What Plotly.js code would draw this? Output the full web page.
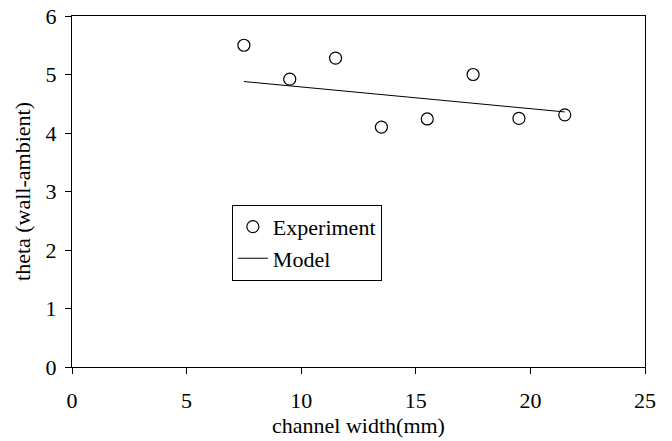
<!DOCTYPE html>
<html>
<head>
<script src="https://cdn.plot.ly/plotly-3.0.1.min.js"></script>
<style>body{margin:0;padding:0;background:#fff}#chart{width:672px;height:441px}</style>
</head>
<body>
<div id="chart"></div>
<script>
const expX = [7.5, 9.5, 11.5, 13.5, 15.5, 17.5, 19.5, 21.5];
const expY = [5.50, 4.92, 5.28, 4.10, 4.24, 5.00, 4.25, 4.31];
const modelX = [7.5, 21.5];
const modelY = [4.88, 4.36];
const xTicks = [0, 5, 10, 15, 20, 25];
const yTicks = [0, 1, 2, 3, 4, 5, 6];

const font = {family: '"Liberation Serif", "Times New Roman", serif', size: 22, color: '#000'};
const titleFont = {family: '"Liberation Serif", "Times New Roman", serif', size: 22, color: '#000'};

const traces = [
  {x: expX, y: expY, mode: 'markers', name: 'Experiment', type: 'scatter',
   marker: {symbol: 'circle-open', size: 12, color: '#000', line: {width: 1.2, color: '#000'}}},
  {x: modelX, y: modelY, mode: 'lines', name: 'Model', type: 'scatter',
   line: {color: '#000', width: 1}}
];

const layout = {
  width: 672, height: 441,
  margin: {l: 72, r: 27, t: 16, b: 74},
  paper_bgcolor: '#fff', plot_bgcolor: '#fff',
  font: font,
  showlegend: true,
  legend: {x: 0.279, y: 0.462, xanchor: 'left', yanchor: 'top',
           bordercolor: '#000', borderwidth: 1, bgcolor: '#fff',
           font: font, tracegroupgap: 0, itemwidth: 30},
  xaxis: {range: [0, 25], tickvals: xTicks, ticks: 'outside', ticklen: 6, tickcolor: '#000',
          ticklabelstandoff: 8,
          showline: true, linecolor: '#000', linewidth: 1, mirror: true, showgrid: false, zeroline: false,
          title: {text: 'channel width(mm)', font: titleFont, standoff: 4}, tickfont: font},
  yaxis: {range: [0, 6], tickvals: yTicks, ticks: 'outside', ticklen: 6, tickcolor: '#000',
          ticklabelstandoff: 4,
          showline: true, linecolor: '#000', linewidth: 1, mirror: true, showgrid: false, zeroline: false,
          title: {text: 'theta (wall-ambient)', font: titleFont, standoff: 8}, tickfont: font}
};

Plotly.newPlot('chart', traces, layout, {displayModeBar: false, staticPlot: true});
</script>
</body>
</html>
